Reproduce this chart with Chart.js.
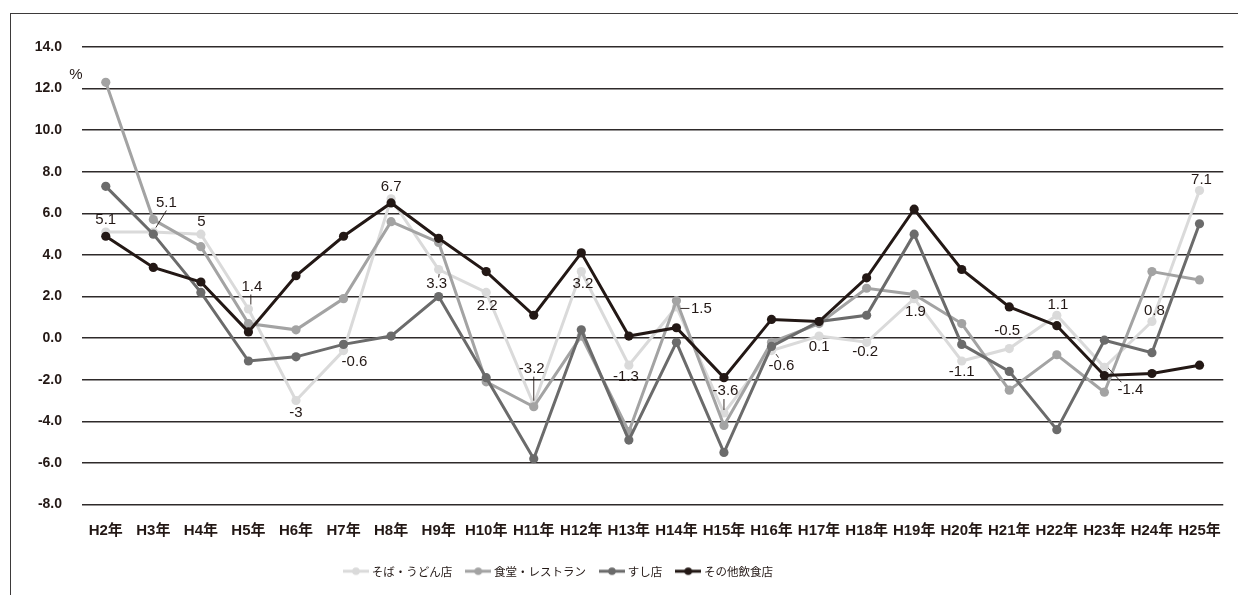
<!DOCTYPE html>
<html lang="ja">
<head>
<meta charset="utf-8">
<title>飲食店 売上高 前年比の推移</title>
<script src="https://cdn.jsdelivr.net/npm/chart.js@4.4.1/dist/chart.umd.min.js"></script>
<style>
  html, body { margin: 0; padding: 0; background: #ffffff; }
  #wrap { position: relative; width: 1238px; height: 595px; overflow: hidden; }
  #frame { position: absolute; left: 10px; top: 13px; right: -4px; bottom: -4px;
           border-left: 1.5px solid #3d3a3a; border-top: 1.5px solid #3d3a3a; }
  canvas { position: absolute; left: 0; top: 0; }
</style>
</head>
<body>
<div id="wrap">
  <div id="frame"></div>
  <canvas id="chart" width="1238" height="595"></canvas>
</div>
<script>
// 年次（平成）
const categories = ['H2年','H3年','H4年','H5年','H6年','H7年','H8年','H9年','H10年','H11年','H12年','H13年',
                    'H14年','H15年','H16年','H17年','H18年','H19年','H20年','H21年','H22年','H23年','H24年','H25年'];

// 前年比（%）
const sobaUdon   = [5.1, 5.1, 5.0, 1.4, -3.0, -0.6, 6.7, 3.3, 2.2, -3.2, 3.2, -1.3,
                    1.5, -3.6, -0.6, 0.1, -0.2, 1.9, -1.1, -0.5, 1.1, -1.4, 0.8, 7.1];
const shokudo    = [12.3, 5.7, 4.4, 0.7, 0.4, 1.9, 5.6, 4.6, -2.1, -3.3, 0.1, -4.5,
                    1.8, -4.2, -0.2, 0.7, 2.4, 2.1, 0.7, -2.5, -0.8, -2.6, 3.2, 2.8];
const sushi      = [7.3, 5.0, 2.2, -1.1, -0.9, -0.3, 0.1, 2.0, -1.9, -5.8, 0.4, -4.9,
                    -0.2, -5.5, -0.4, 0.8, 1.1, 5.0, -0.3, -1.6, -4.4, -0.1, -0.7, 5.5];
const otherFood  = [4.9, 3.4, 2.7, 0.3, 3.0, 4.9, 6.5, 4.8, 3.2, 1.1, 4.1, 0.1,
                    0.5, -1.9, 0.9, 0.8, 2.9, 6.2, 3.3, 1.5, 0.6, -1.8, -1.7, -1.3];

const seriesNames = ['そば・うどん店', '食堂・レストラン', 'すし店', 'その他飲食店'];
const yTicks = { min: -8, max: 14, step: 2 };

const COLORS = ['#dadada', '#a3a3a3', '#6b6b6b', '#231815'];
const TEXT = '#231815';
const LATIN = '"Liberation Sans", Arial, "Noto Sans CJK JP", sans-serif';
const CJK = '"Noto Sans CJK JP", "Noto Sans CJK SC", sans-serif';

// そば・うどん店の値ラベルの配置（点からのずれ、引出線）
const labelPlacement = [
  { dx: 0,    dy: -12 },
  { dx: 13,   dy: -29.5, leader: [2.5, -4.5, 13, -21.5] },
  { dx: 0.5,  dy: -12.5 },
  { dx: 3.5,  dy: -22,   leader: [2.4, -4.5, 2.4, -14.5] },
  { dx: 0,    dy: 12.5 },
  { dx: 11,   dy: 11 },
  { dx: 0,    dy: -12 },
  { dx: -2,   dy: 14,    leader: [0.5, 4.5, 0, 8] },
  { dx: 1,    dy: 13 },
  { dx: -2,   dy: -35.5, leader: [0, -28, 0, -4] },
  { dx: 1.5,  dy: 12 },
  { dx: -3,   dy: 12 },
  { dx: 25,   dy: 2,     leader: [4, 1.5, 13, 1.5] },
  { dx: 1.5,  dy: -22,   leader: [0, -14, 0, -3] },
  { dx: 10,   dy: 15,    leader: [4.5, 3.5, 7, 7] },
  { dx: 0,    dy: 11 },
  { dx: -1.5, dy: 9.6 },
  { dx: 1.3,  dy: 13 },
  { dx: 0,    dy: 11 },
  { dx: -2,   dy: -17.6 },
  { dx: 1,    dy: -10.3 },
  { dx: 26,   dy: 22.6,  leader: [4, 1, 17, 15] },
  { dx: 2.5,  dy: -10.5 },
  { dx: 2,    dy: -10.3 }
];

// 凡例用の線＋マーカー
function legendMark(color) {
  const c = document.createElement('canvas');
  c.width = 26; c.height = 10;
  const g = c.getContext('2d');
  g.strokeStyle = color; g.lineWidth = 3;
  g.beginPath(); g.moveTo(0, 5); g.lineTo(26, 5); g.stroke();
  g.fillStyle = color;
  g.beginPath(); g.arc(13, 5, 3.8, 0, Math.PI * 2); g.fill();
  return c;
}
const legendMarks = COLORS.map(legendMark);

// 凡例を左寄りの位置へ移す
const legendPosition = {
  id: 'legendPosition',
  afterLayout(chart, args, opts) {
    const lg = chart.legend;
    if (!lg || !lg.lineWidths) return;
    const pad = lg.options.labels.padding;
    const start = (lg.left + pad + lg.right - lg.lineWidths[0]) / 2;
    const d = opts.startX - start;
    lg.left += d;
    lg.right += d;
  }
};

// 値ラベル
const valueLabels = {
  id: 'valueLabels',
  afterDatasetsDraw(chart, args, opts) {
    const idx = opts.datasetIndex;
    const meta = chart.getDatasetMeta(idx);
    const values = chart.data.datasets[idx].data;
    const ctx = chart.ctx;
    ctx.save();
    ctx.font = '15px ' + LATIN;
    ctx.fillStyle = TEXT;
    ctx.strokeStyle = TEXT;
    ctx.lineWidth = 0.9;
    ctx.textAlign = 'center';
    ctx.textBaseline = 'middle';
    meta.data.forEach((pt, i) => {
      const p = opts.placement[i];
      if (!p) return;
      if (p.leader) {
        const [x1, y1, x2, y2] = p.leader;
        ctx.beginPath();
        ctx.moveTo(pt.x + x1, pt.y + y1);
        ctx.lineTo(pt.x + x2, pt.y + y2);
        ctx.stroke();
      }
      ctx.fillText(String(values[i]), pt.x + p.dx, pt.y + p.dy);
    });
    ctx.restore();
  }
};

// 単位「%」
const unitLabel = {
  id: 'unitLabel',
  afterDraw(chart) {
    const { ctx, chartArea } = chart;
    ctx.save();
    ctx.font = '15px ' + LATIN;
    ctx.fillStyle = TEXT;
    ctx.textAlign = 'center';
    ctx.textBaseline = 'middle';
    ctx.fillText('%', chartArea.left - 6, chartArea.top + 28);
    ctx.restore();
  }
};

const seriesData = [sobaUdon, shokudo, sushi, otherFood];

new Chart(document.getElementById('chart'), {
  type: 'line',
  data: {
    labels: categories,
    datasets: seriesData.map((vals, i) => ({
      label: seriesNames[i],
      data: vals,
      borderColor: COLORS[i],
      backgroundColor: COLORS[i],
      pointBackgroundColor: COLORS[i],
      pointBorderColor: COLORS[i],
      pointBorderWidth: 0,
      pointRadius: 4.6,
      borderWidth: 3,
      tension: 0,
      fill: false,
      order: 4 - i
    }))
  },
  options: {
    responsive: false,
    devicePixelRatio: 1,
    animation: false,
    layout: { padding: { top: 47, right: 12, bottom: 8, left: 0 } },
    scales: {
      x: {
        type: 'category',
        offset: true,
        grid: { display: false, drawTicks: false },
        border: { display: false },
        ticks: {
          color: TEXT,
          font: { family: LATIN, size: 15, weight: 'bold' },
          padding: 17,
          maxRotation: 0,
          minRotation: 0,
          autoSkip: false
        },
        afterFit(scale) { scale.height = 45; }
      },
      y: {
        min: yTicks.min,
        max: yTicks.max,
        grid: { color: '#2e2a2a', lineWidth: 1.4, drawTicks: false },
        border: { display: false },
        ticks: {
          stepSize: yTicks.step,
          color: TEXT,
          font: { family: LATIN, size: 14, weight: 'bold' },
          padding: 20,
          callback: (v) => Number(v).toFixed(1)
        },
        afterFit(scale) { scale.width = 82; }
      }
    },
    plugins: {
      legend: {
        position: 'bottom',
        labels: {
          usePointStyle: true,
          pointStyleWidth: 20,
          padding: 16,
          color: TEXT,
          font: { family: CJK, size: 11.5 },
          sort: (a, b) => a.datasetIndex - b.datasetIndex,
          generateLabels(chart) {
            const items = Chart.defaults.plugins.legend.labels.generateLabels(chart);
            items.forEach((it) => { it.pointStyle = legendMarks[it.datasetIndex]; });
            return items;
          }
        }
      },
      legendPosition: { startX: 346 },
      valueLabels: { datasetIndex: 0, placement: labelPlacement },
      tooltip: { enabled: false }
    }
  },
  plugins: [legendPosition, valueLabels, unitLabel]
});
</script>
</body>
</html>
